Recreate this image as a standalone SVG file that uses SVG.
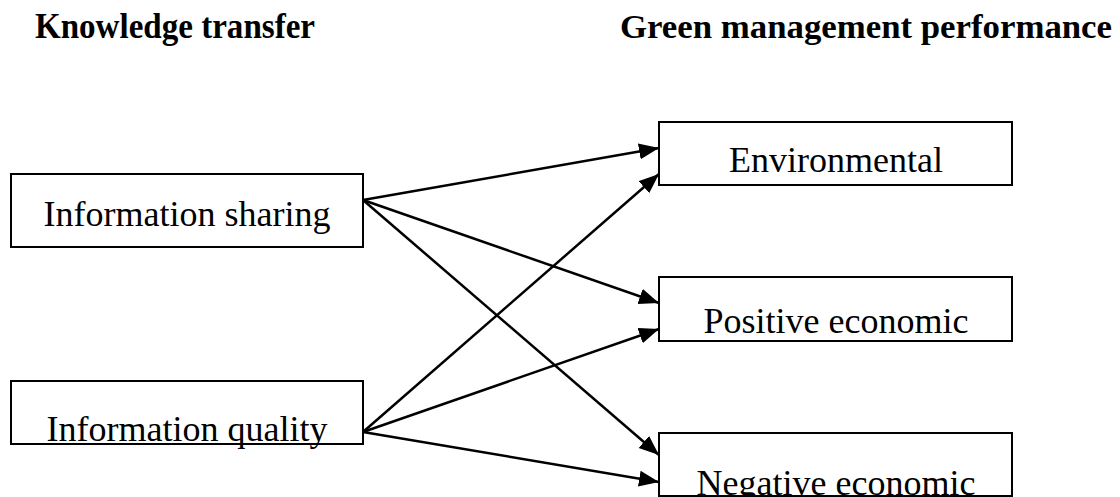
<svg xmlns="http://www.w3.org/2000/svg" width="1120" height="497" viewBox="0 0 1120 497">
<style>
.box{fill:#fff;stroke:#000;stroke-width:2}
.lbl{font-family:"Liberation Serif","Times New Roman",serif;font-size:36px;fill:#000;text-anchor:middle}
.hd{font-family:"Liberation Serif","Times New Roman",serif;font-size:35px;font-weight:bold;fill:#000}
.c{stroke:#000;stroke-width:2.5;fill:none;marker-end:url(#ah)}
</style>
<defs>
<marker id="ah" markerUnits="userSpaceOnUse" markerWidth="22" markerHeight="18" refX="20" refY="8" orient="auto">
<path d="M0,0 L20,8 L0,16 z" fill="#000"/>
</marker>
</defs>
<rect width="1120" height="497" fill="#fff"/>
<text class="hd" x="35" y="38" textLength="280" lengthAdjust="spacingAndGlyphs">Knowledge transfer</text>
<text class="hd" x="620" y="38" textLength="492" lengthAdjust="spacingAndGlyphs" style="font-size:34px">Green management performance</text>
<g id="connectors">
<line class="c" x1="363" y1="200" x2="659" y2="148"/>
<line class="c" x1="363" y1="200" x2="659" y2="303"/>
<line class="c" x1="363" y1="200" x2="659" y2="455"/>
<line class="c" x1="363" y1="432" x2="659" y2="174"/>
<line class="c" x1="363" y1="432" x2="659" y2="329"/>
<line class="c" x1="363" y1="432" x2="659" y2="482"/>
</g>
<g id="info-sharing">
<rect class="box" x="11" y="174" width="352" height="73"/>
<text class="lbl" x="187" y="226">Information sharing</text>
</g>
<g id="info-quality">
<rect class="box" x="11" y="381" width="352" height="63"/>
<text class="lbl" x="187" y="441">Information quality</text>
</g>
<g id="environmental">
<rect class="box" x="659" y="122" width="353" height="63"/>
<text class="lbl" x="836" y="172">Environmental</text>
</g>
<g id="positive">
<rect class="box" x="659" y="277" width="353" height="64"/>
<text class="lbl" x="836" y="333">Positive economic</text>
</g>
<g id="negative">
<rect class="box" x="659" y="433" width="353" height="63"/>
<text class="lbl" x="836" y="495">Negative economic</text>
</g>
</svg>
